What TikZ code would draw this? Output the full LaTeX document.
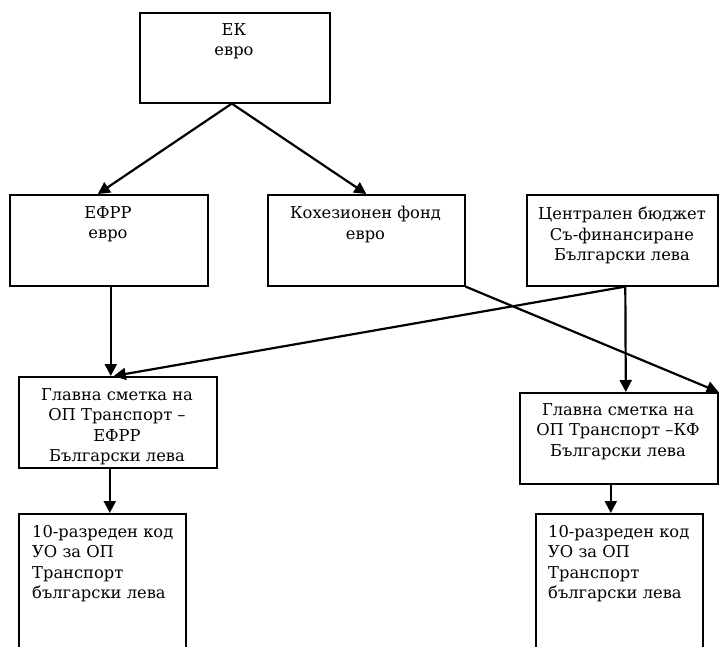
\documentclass[tikz,border=0pt]{standalone}
\usepackage{fontspec}
\setmainfont{DejaVu Serif}
\usetikzlibrary{arrows.meta}
\begin{document}
\begin{tikzpicture}[x=1pt,y=-1pt,
  box/.style={draw, line width=1.6pt, rectangle, anchor=north west, inner sep=0pt},
  txt/.style={anchor=north, inner sep=0pt, align=center, font=\fontsize{16.3}{20.5}\selectfont},
  ltxt/.style={anchor=north west, inner sep=0pt, align=left, font=\fontsize{16.3}{20.5}\selectfont},
  arr/.style={line width=2.2pt, -{Triangle[length=12pt,width=12pt]}}]
\clip (0,0) rectangle (719,646);
% boxes
\node[box, minimum width=190pt, minimum height=90pt] (ek) at (139,12) {};
\node[box, minimum width=198pt, minimum height=91pt] (efrr) at (9,194) {};
\node[box, minimum width=197pt, minimum height=91pt] (kf) at (267,194) {};
\node[box, minimum width=191pt, minimum height=91pt] (cb) at (526,194) {};
\node[box, minimum width=198pt, minimum height=91pt] (gefrr) at (18,376) {};
\node[box, minimum width=198pt, minimum height=91pt] (gkf) at (519,392) {};
\node[box, minimum width=167pt, minimum height=160pt] (c1) at (18,513) {};
\node[box, minimum width=167pt, minimum height=160pt] (c2) at (535,513) {};
% texts
\node[txt] (ekt) at (234,23) {ЕК\\евро};
\node[txt] (efrrt) at (108,206) {ЕФРР\\евро};
\node[txt] (kft) at (365.5,206) {Кохезионен фонд\\евро};
\node[txt] (cbt) at (622,207) {Централен бюджет\\Съ-финансиране\\Български лева};
\node[txt] (gefrrt) at (117,388) {Главна сметка на\\ОП Транспорт –\\ЕФРР\\Български лева};
\node[txt] (gkft) at (618,403) {Главна сметка на\\ОП Транспорт –КФ\\Български лева};
\node[ltxt] (c1t) at (32,525) {10-разреден код\\УО за ОП\\Транспорт\\български лева};
\node[ltxt] (c2t) at (548,525) {10-разреден код\\УО за ОП\\Транспорт\\български лева};
% connectors
\draw[arr] ([xshift=-3pt]ek.south) -- ([xshift=-11pt]efrr.north);
\draw[arr] ([xshift=-3pt]ek.south) -- (kf.north);
\draw[arr] ([xshift=2pt]efrr.south) -- ([xshift=-7pt]gefrr.north);
\draw[arr] ([xshift=3pt]cb.south) -- ([xshift=7pt]gkf.north);
\draw[arr] ([xshift=3pt]cb.south) -- ([xshift=-4pt]gefrr.north);
\draw[arr] (kf.south east) -- (gkf.north east);
\draw[arr] ([xshift=-8pt]gefrr.south) -- ([xshift=7.5pt]c1.north);
\draw[arr] ([xshift=-8pt]gkf.south) -- ([xshift=-8.5pt]c2.north);
\end{tikzpicture}
\end{document}
